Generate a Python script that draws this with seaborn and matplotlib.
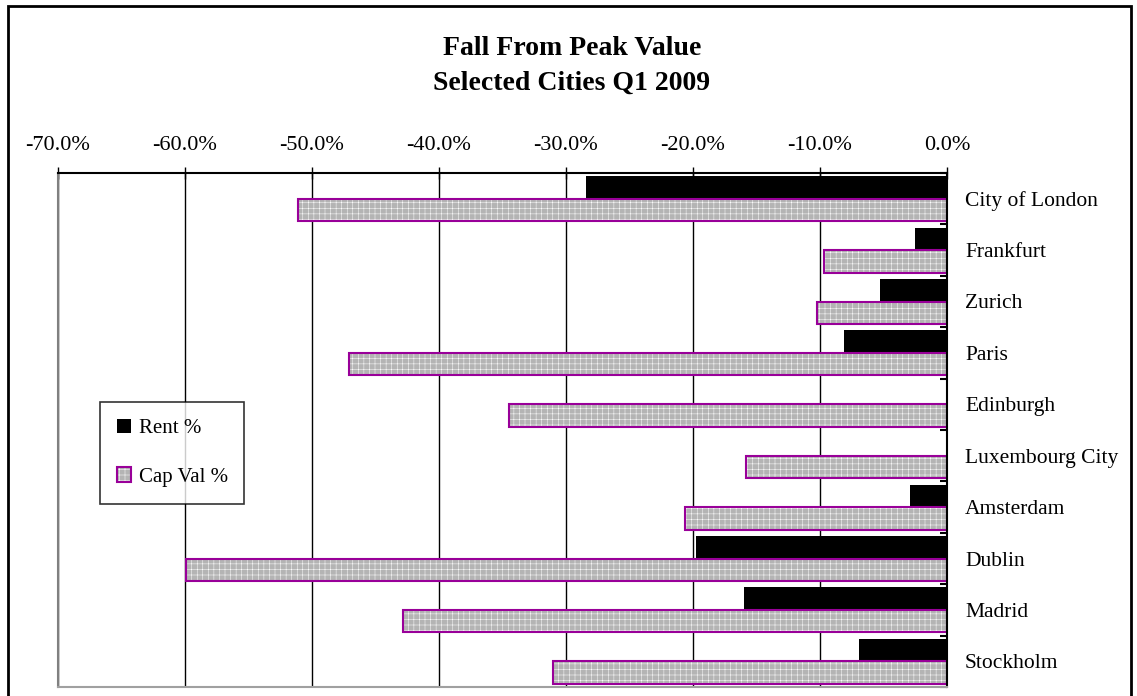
import numpy as np
import pandas as pd
import matplotlib
matplotlib.use("Agg")
import matplotlib.pyplot as plt
from matplotlib.patches import Rectangle
from matplotlib.ticker import FuncFormatter
from matplotlib.legend_handler import HandlerTuple
import seaborn as sns

# ---- data ----
cities = ["City of London", "Frankfurt", "Zurich", "Paris", "Edinburgh",
          "Luxembourg City", "Amsterdam", "Dublin", "Madrid", "Stockholm"]
rent_pct = [-28.4, -2.5, -5.3, -8.1, 0.0, 0.0, -2.9, -19.8, -16.0, -6.9]
capval_pct = [-51.1, -9.7, -10.2, -47.1, -34.5, -15.8, -20.6, -59.9, -42.8, -31.0]
series = ["Rent %", "Cap Val %"]
title_lines = ["Fall From Peak Value", "Selected Cities Q1 2009"]
x_ticks = [-70, -60, -50, -40, -30, -20, -10, 0]

df = pd.DataFrame({
    "City": cities * 2,
    "Value": rent_pct + capval_pct,
    "Series": [series[0]] * len(cities) + [series[1]] * len(cities),
})

sns.set_style("white")
plt.rcParams["font.family"] = ["Liberation Serif", "DejaVu Serif"]
plt.rcParams["text.color"] = "black"
plt.rcParams["xtick.color"] = "black"
plt.rcParams["ytick.color"] = "black"
plt.rcParams["axes.labelcolor"] = "black"
plt.rcParams["hatch.color"] = "white"
plt.rcParams["hatch.linewidth"] = 0.35

W, H = 1137, 696
fig = plt.figure(figsize=(W / 100, H / 100), dpi=100)
ax = fig.add_axes([58 / W, 9 / H, 889 / W, 514 / H])

RENT_C = "black"
CAP_FACE = "#b4b4b4"
CAP_EDGE = "#990099"
CAP_HATCH = "+++"

sns.barplot(data=df, y="City", x="Value", hue="Series", order=cities,
            hue_order=series, palette={series[0]: RENT_C, series[1]: CAP_FACE},
            orient="h", width=0.875, dodge=True, saturation=1, legend=False,
            linewidth=0, ax=ax)

rent_cont, cap_cont = ax.containers[0], ax.containers[1]
for p in rent_cont.patches:
    p.set_facecolor(RENT_C)
    p.set_edgecolor(RENT_C)
    p.set_linewidth(0)
    p.set_zorder(3)
for p in cap_cont.patches:
    p.set_facecolor(CAP_FACE)
    p.set_edgecolor("white")
    p.set_hatch(CAP_HATCH)
    p.set_linewidth(0)
    p.set_zorder(3)
    ax.add_patch(Rectangle(p.get_xy(), p.get_width(), p.get_height(),
                           fill=False, edgecolor=CAP_EDGE, linewidth=1.5,
                           zorder=4))

ax.set_xlim(-70, 0)
ax.set_xticks(x_ticks)
ax.xaxis.set_major_formatter(FuncFormatter(lambda v, _: f"{0.0 if abs(v) < 1e-9 else v:.1f}%"))
ax.xaxis.tick_top()
ax.xaxis.set_label_position("top")
ax.set_xlabel("")
ax.set_ylabel("")
ax.grid(axis="x", color="black", linewidth=1.0)
ax.grid(axis="y", visible=False)
ax.set_axisbelow(True)

ax.tick_params(axis="x", which="major", direction="inout", length=8, width=1,
               color="black", pad=9, labelsize=16, top=True, bottom=False,
               labelcolor="black")
ax.yaxis.tick_right()
ax.tick_params(axis="y", which="major", length=0, pad=13, labelsize=15.5,
               right=True, left=False, labelcolor="black")
ax.set_yticks(np.arange(-0.5, len(cities), 1), minor=True)
ax.tick_params(axis="y", which="minor", direction="in", length=5, width=1.5,
               color="black", right=True, left=False)
for lab in ax.get_yticklabels():
    lab.set_horizontalalignment("left")

for side, col in [("top", "black"), ("right", "black"),
                  ("left", "#808080"), ("bottom", "#a0a0a0")]:
    ax.spines[side].set_visible(True)
    ax.spines[side].set_color(col)
    ax.spines[side].set_linewidth(1.5)
    ax.spines[side].set_zorder(5)

# legend
h_rent = Rectangle((0, 0), 1, 1, facecolor=RENT_C, edgecolor=RENT_C, linewidth=0)
h_cap_fill = Rectangle((0, 0), 1, 1, facecolor=CAP_FACE, edgecolor="white",
                       hatch=CAP_HATCH, linewidth=0)
h_cap_edge = Rectangle((0, 0), 1, 1, fill=False, edgecolor=CAP_EDGE, linewidth=1.5)
leg = ax.legend([h_rent, (h_cap_fill, h_cap_edge)], series,
                handler_map={tuple: HandlerTuple(ndivide=1, pad=0)},
                loc="upper left", bbox_to_anchor=(100 / W, 1 - 402 / H),
                bbox_transform=fig.transFigure, fontsize=15,
                frameon=True, fancybox=False, edgecolor="black",
                handlelength=0.7, handleheight=0.7, handletextpad=0.35,
                labelspacing=1.4, borderpad=0.8, borderaxespad=0)
leg.get_frame().set_linewidth(1.2)
leg.set_zorder(10)

# titles
fig.text(0.503, 1 - 55 / H, title_lines[0], ha="center", va="baseline",
         fontsize=20, fontweight="bold")
fig.text(0.503, 1 - 90 / H, title_lines[1], ha="center", va="baseline",
         fontsize=20, fontweight="bold")

# outer chart border
fig.patches.append(Rectangle((8 / W, -0.02), (1131 - 8) / W, 1.02 - 6 / H,
                             transform=fig.transFigure, fill=False,
                             edgecolor="black", linewidth=2, zorder=0))

fig.savefig("out.png", dpi=100)
